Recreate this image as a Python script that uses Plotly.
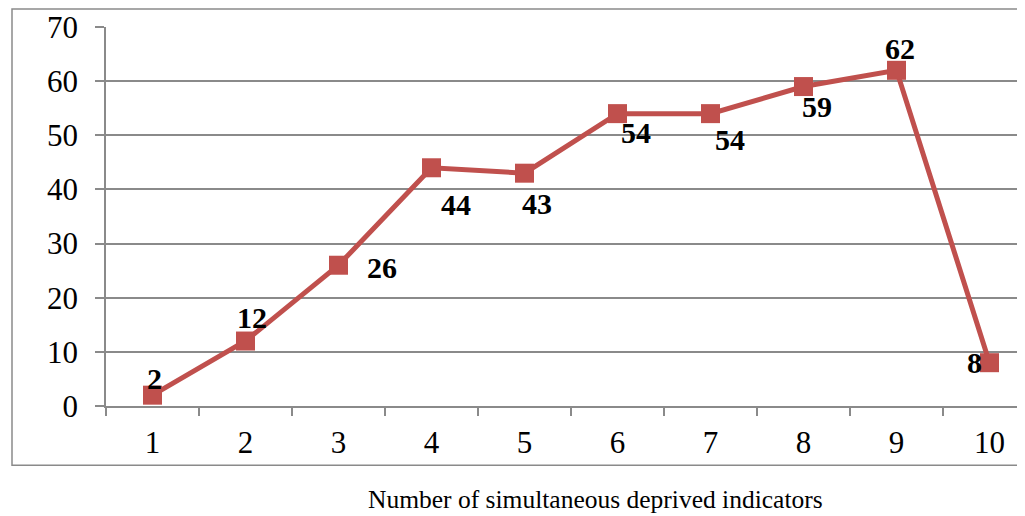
import plotly.graph_objects as go

categories = ["1", "2", "3", "4", "5", "6", "7", "8", "9", "10"]
values = [2, 12, 26, 44, 43, 54, 54, 59, 62, 8]
y_ticks = [0, 10, 20, 30, 40, 50, 60, 70]
x_title = "Number of simultaneous deprived indicators"

# label offsets (pixels) relative to each point
label_dx = [2, 6, 43, 24, 12, 18, 19, 13, 3, -15]
label_dy = [17, 24, -2, -37, -30, -19, -26, -20, 22, 0]

RED = "#C0504D"
GRID = "#8A8A8A"
FONT = "Liberation Serif, Times New Roman, serif"

# page has an 8px body margin; figure placed at (8,8)
OFF = 8
W, H = 1025 - OFF, 516 - OFF
L, R, T = 106 - OFF, 0, 27 - OFF
B = H - (405.7 - OFF)

fig = go.Figure()
fig.add_trace(go.Scatter(
    x=categories, y=values, mode="lines+markers",
    line=dict(color=RED, width=5),
    marker=dict(symbol="square", size=19, color=RED),
    showlegend=False, hoverinfo="skip",
))

annotations = []
for i, (v, dx, dy) in enumerate(zip(values, label_dx, label_dy)):
    annotations.append(dict(
        x=i, y=v, xref="x", yref="y", text=f"<b>{v}</b>", showarrow=False,
        xshift=dx, yshift=dy, font=dict(family=FONT, size=30, color="black"),
    ))

pw = W - L - R
ph = H - T - B
# title box bottom kept at the page's bottom edge
annotations.append(dict(
    x=(595 - OFF - L) / pw, y=(H - B - H) / ph, xref="paper", yref="paper",
    xanchor="center", yanchor="bottom",
    text=x_title, showarrow=False,
    font=dict(family=FONT, size=25.5, color="black"),
))

fig.add_shape(type="rect", xref="paper", yref="paper",
              x0=(12 - OFF - L) / pw, x1=1.01,
              y0=(H - B - (465 - OFF)) / ph, y1=(H - B - (9 - OFF)) / ph,
              line=dict(color=GRID, width=1.5), layer="below")

fig.update_layout(
    width=W, height=H,
    margin=dict(l=L, r=R, t=T, b=B, autoexpand=False),
    paper_bgcolor="white", plot_bgcolor="white",
    annotations=annotations,
    font=dict(family=FONT, color="black"),
)
fig.update_xaxes(
    type="category", range=[-0.5, -0.5 + pw / 93.0],
    showgrid=False, showline=True, linecolor=GRID, linewidth=1.5,
    ticks="outside", tickson="boundaries", ticklen=8, tickcolor=GRID, tickwidth=1.5,
    tickfont=dict(family=FONT, size=31, color="black"),
    ticklabelstandoff=8,
)
fig.update_yaxes(
    range=[0, 70], tickvals=y_ticks,
    showgrid=True, gridcolor=GRID, gridwidth=1.5,
    showline=True, linecolor=GRID, linewidth=1.5,
    ticks="outside", ticklen=9, tickcolor=GRID, tickwidth=1.5,
    tickfont=dict(family=FONT, size=31, color="black"),
    ticklabelstandoff=11, zeroline=False,
)

fig.write_html("out.html")
